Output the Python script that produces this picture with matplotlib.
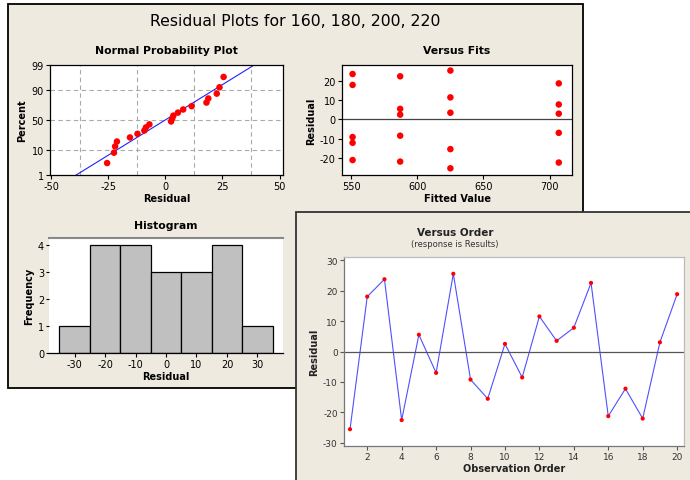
import numpy as np
import matplotlib
matplotlib.use("Agg")
import matplotlib.pyplot as plt
from matplotlib.patches import Rectangle
from statistics import NormalDist

plt.rcParams["axes.unicode_minus"] = False

# data
order = list(range(1, 21))
residuals = [-25.5, 18.0, 23.7, -22.5, 5.5, -7.0, 25.5, -9.2, -15.5, 2.5,
             -8.5, 11.5, 3.5, 7.8, 22.5, -21.2, -12.2, -22.0, 3.0, 18.8]
fitted = [625, 551, 551, 707, 587, 707, 625, 551, 625, 587,
          587, 625, 625, 707, 587, 551, 551, 587, 707, 707]
hist_bins = [-35, -25, -15, -5, 5, 15, 25, 35]
prob_ticks = [1, 10, 50, 90, 99]

W, H = 690, 481
bg = "#EEEAE0"
red = "#FF0000"
nd = NormalDist()

fig = plt.figure(figsize=(W / 100, H / 100), dpi=100)
fig.patch.set_facecolor("white")


def ax_px(left, top, right, bottom):
    return fig.add_axes([left / W, 1 - bottom / H, (right - left) / W, (bottom - top) / H])


def panel(left, top, right, bottom, z, ec):
    r = Rectangle((left / W, 1 - bottom / H), (right - left) / W, (bottom - top) / H,
                  transform=fig.transFigure, facecolor=bg, edgecolor=ec, lw=1.3, zorder=z)
    fig.add_artist(r)


def style(ax, fs=7):
    ax.tick_params(labelsize=fs, length=3, width=0.8, pad=1.5, direction="out")
    for s in ax.spines.values():
        s.set_linewidth(0.9)


# panels
panel(8, 5, 583, 389, -10, "black")
panel(296, 213, 695, 490, -5, "#333333")

fig.text(295 / W, 1 - 22 / H, "Residual Plots for 160, 180, 200, 220",
         ha="center", va="center", fontsize=11.3)

# normal probability plot
ax1 = ax_px(50, 66, 283, 176)
srt = np.sort(residuals)
n = len(srt)
pcts = [(i - 0.3) / (n + 0.4) for i in range(1, n + 1)]
zs = [nd.inv_cdf(p) for p in pcts]
mu = float(np.mean(residuals))
sd = float(np.std(residuals, ddof=1))
zlo, zhi = nd.inv_cdf(0.01), nd.inv_cdf(0.99)
ax1.plot([mu + sd * zlo, mu + sd * zhi], [zlo, zhi], color="#2020FF", lw=0.8, zorder=2)
ax1.scatter(srt, zs, s=22, color=red, zorder=3, edgecolors="none")
ax1.set_xlim(-50.5, 51.5)
ax1.set_ylim(zlo, zhi)
ax1.set_xticks([-50, -25, 0, 25, 50])
ax1.set_yticks([nd.inv_cdf(p / 100) for p in prob_ticks])
ax1.set_yticklabels([str(p) for p in prob_ticks])
for gx in [-37.5, -12.5, 12.5, 37.5]:
    ax1.axvline(gx, color="#AAAAAA", ls=(0, (4, 3)), lw=0.8, zorder=1)
for p in [10, 50, 90]:
    ax1.axhline(nd.inv_cdf(p / 100), color="#AAAAAA", ls=(0, (4, 3)), lw=0.8, zorder=1)
style(ax1)
ax1.set_title("Normal Probability Plot", fontsize=7.8, fontweight="bold", pad=9)
ax1.set_xlabel("Residual", fontsize=7, fontweight="bold", labelpad=1)
ax1.set_ylabel("Percent", fontsize=7, fontweight="bold", labelpad=3)

# versus fits
ax2 = ax_px(342, 66, 572, 176)
ax2.scatter(fitted, residuals, s=22, color=red, zorder=3, edgecolors="none")
ax2.axhline(0, color="#444444", lw=0.9)
ax2.set_xlim(543, 717)
ax2.set_ylim(-29, 28.4)
ax2.set_xticks([550, 600, 650, 700])
ax2.set_yticks([-20, -10, 0, 10, 20])
style(ax2)
ax2.set_title("Versus Fits", fontsize=7.8, fontweight="bold", pad=9)
ax2.set_xlabel("Fitted Value", fontsize=7, fontweight="bold", labelpad=1)
ax2.set_ylabel("Residual", fontsize=7, fontweight="bold", labelpad=3)

# histogram
ax3 = ax_px(49, 239, 283, 354)
ax3.hist(residuals, bins=hist_bins, color="#C0C0C0", edgecolor="black", linewidth=0.9)
ax3.set_xlim(-38.4, 38.4)
ax3.set_ylim(0, 4.25)
ax3.set_xticks([-30, -20, -10, 0, 10, 20, 30])
ax3.set_yticks([0, 1, 2, 3, 4])
style(ax3)
ax3.spines["top"].set_color("#888888")
ax3.spines["top"].set_linewidth(1.5)
ax3.spines["right"].set_visible(False)
ax3.spines["left"].set_visible(False)
ax3.tick_params(axis="y", length=2)
ax3.set_title("Histogram", fontsize=7.8, fontweight="bold", pad=7)
ax3.set_xlabel("Residual", fontsize=7, fontweight="bold", labelpad=1)
ax3.set_ylabel("Frequency", fontsize=7, fontweight="bold", labelpad=3)

# versus order
ax4 = ax_px(344, 258, 684, 447)
ax4.plot(order, residuals, color="#5050FF", lw=0.8, zorder=2)
ax4.scatter(order, residuals, s=9, color=red, zorder=3, edgecolors="none")
ax4.axhline(0, color="#555555", lw=0.9)
ax4.set_xlim(0.65, 20.4)
ax4.set_ylim(-31, 31)
ax4.set_xticks(range(2, 21, 2))
ax4.set_yticks([-30, -20, -10, 0, 10, 20, 30])
style(ax4, fs=6.5)
ax4.tick_params(colors="#555555", labelcolor="#333333")
for s in ["top", "right"]:
    ax4.spines[s].set_color("#BBBBBB")
for s in ["left", "bottom"]:
    ax4.spines[s].set_color("#777777")
fig.text(455 / W, 1 - 233 / H, "Versus Order", ha="center", va="center",
         fontsize=7.5, fontweight="bold", color="#222222")
fig.text(455 / W, 1 - 245 / H, "(response is Results)", ha="center", va="center",
         fontsize=6, color="#333333")
ax4.set_xlabel("Observation Order", fontsize=7, fontweight="bold", labelpad=1, color="#222222")
ax4.set_ylabel("Residual", fontsize=7, fontweight="bold", labelpad=3, color="#222222")

fig.savefig("out.png", dpi=100, facecolor="white")
